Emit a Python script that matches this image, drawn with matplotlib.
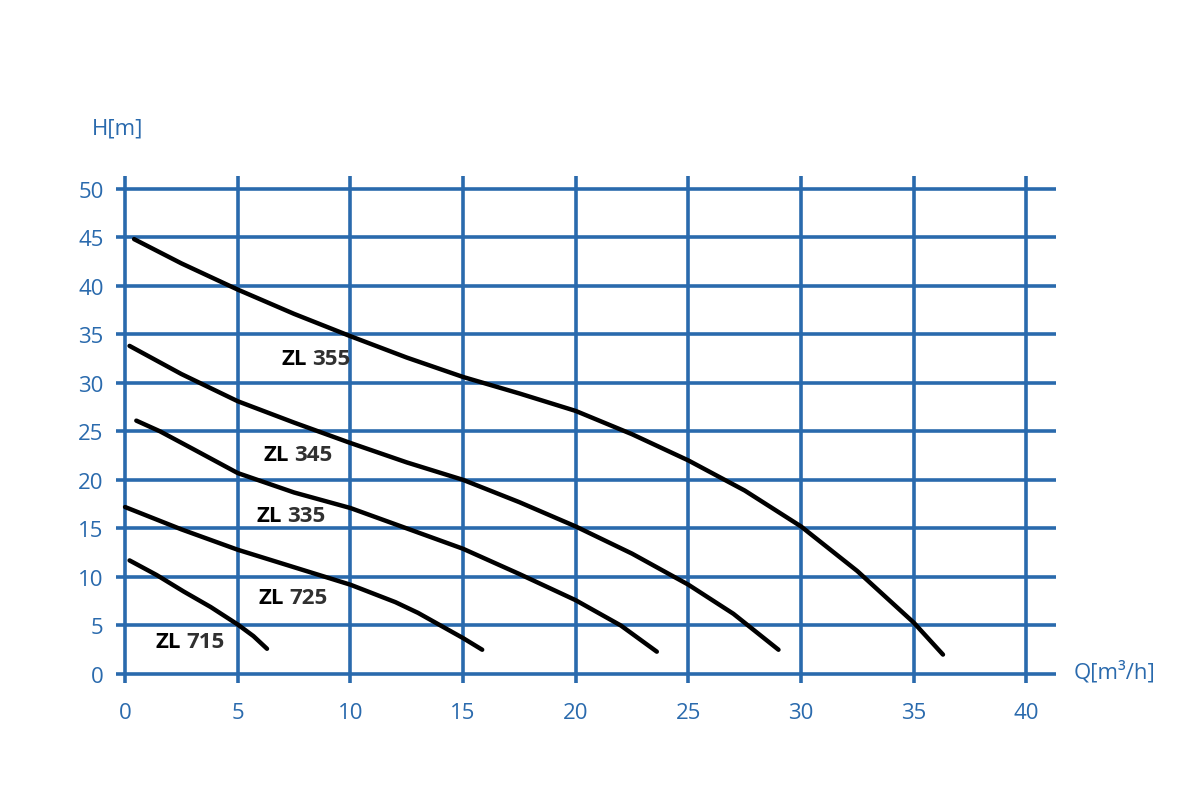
import matplotlib.pyplot as plt

plt.rcParams['font.family'] = ['Open Sans', 'DejaVu Sans']

blue = '#2a6aad'

# pump curves: flow Q [m3/h], head H [m]
q_355 = [0.4, 2.5, 5, 7.5, 10, 12.5, 15, 17.5, 20, 22.5, 25, 27.5, 30, 32.5, 35, 36.3]
h_355 = [44.8, 42.3, 39.6, 37.1, 34.8, 32.6, 30.6, 28.9, 27.1, 24.7, 22.0, 18.9, 15.2, 10.6, 5.3, 2.0]

q_345 = [0.2, 2.5, 5, 7.5, 10, 12.5, 15, 17.5, 20, 22.5, 25, 27, 29]
h_345 = [33.8, 30.9, 28.1, 25.9, 23.8, 21.8, 20.0, 17.7, 15.2, 12.4, 9.2, 6.2, 2.5]

q_335 = [0.5, 1.55, 3, 5, 7.5, 10, 12.5, 15, 17.5, 20, 22, 23.6]
h_335 = [26.1, 25.0, 23.2, 20.7, 18.7, 17.1, 15.0, 12.9, 10.3, 7.6, 5.0, 2.3]

q_725 = [0, 2.5, 5, 7.5, 10, 12, 13, 14, 15, 15.85]
h_725 = [17.2, 14.9, 12.8, 11.0, 9.2, 7.4, 6.3, 5.0, 3.7, 2.5]

q_715 = [0.2, 1.4, 2.6, 3.8, 5, 5.7, 6.3]
h_715 = [11.7, 10.2, 8.5, 6.9, 5.1, 3.9, 2.6]

curves = [(q_355, h_355), (q_345, h_345), (q_335, h_335), (q_725, h_725), (q_715, h_715)]
models = ['355', '345', '335', '725', '715']
label_x = [8.4, 7.6, 7.3, 7.4, 2.8]
label_y = [32.5, 22.6, 16.3, 7.9, 3.3]

fig = plt.figure(figsize=(12, 8.12), dpi=100)
ax = fig.add_axes([0.0967, 0.1576, 0.783, 0.6244])

for q, h in curves:
    ax.plot(q, h, color='black', lw=3.2, solid_capstyle='round', solid_joinstyle='round', zorder=3)

# "ZL" black, model number a bit greyer, like the original labels
for m, x, y in zip(models, label_x, label_y):
    ax.annotate('ZL', (x, y), xytext=(-5.5, 0), textcoords='offset points',
                ha='right', va='center', fontsize=16, fontweight='bold', color='black')
    ax.annotate(m, (x, y), xytext=(-1.5, 0), textcoords='offset points',
                ha='left', va='center', fontsize=16, fontweight='bold', color='#303030')

ax.set_xlim(-0.4, 41.3)
ax.set_ylim(-0.93, 51.3)
ax.set_xticks(range(0, 41, 5))
ax.set_yticks(range(0, 51, 5))
ax.grid(True, color=blue, lw=2.6)
ax.set_axisbelow(True)
for s in ax.spines.values():
    s.set_visible(False)
ax.tick_params(length=0, labelsize=16, labelcolor=blue, pad=9)
ax.tick_params(axis='x', pad=14)

ax.text(-0.35, 56.2, 'H[m]', ha='center', va='center', fontsize=16, color=blue)
ax.text(43.9, 0.3, 'Q[m³/h]', ha='center', va='center', fontsize=16, color=blue, clip_on=False)

fig.savefig('out.png', dpi=100)
